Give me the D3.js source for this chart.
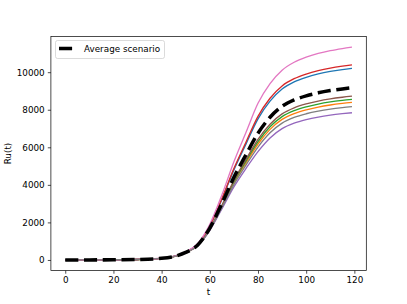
<!DOCTYPE html>
<html><head><meta charset="utf-8">
<script src="https://cdn.jsdelivr.net/npm/d3@7"></script>
<style>body{margin:0;background:#fff}svg{display:block}text{font-family:"DejaVu Sans",sans-serif}</style>
</head><body><svg id="c" width="407" height="304"></svg>
<script>
const times = [0,10,20,30,40,45,50,55,60,65,70,75,80,85,90,95,100,105,110,115,119];
const blueVals   = [1,3,8,26,88,186,414,836,1796,3220,4798,6170,7513,8459,9104,9483,9728,9906,10039,10139,10206];
const orangeVals = [1,3,8,24,83,175,390,773,1628,2834,4101,5172,6176,6954,7485,7796,7997,8144,8253,8336,8391];
const greenVals  = [1,3,8,24,83,176,392,779,1643,2870,4164,5262,6298,7091,7632,7949,8154,8304,8416,8500,8556];
const redVals    = [1,3,8,26,88,187,416,843,1813,3260,4868,6270,7648,8611,9268,9653,9902,10084,10220,10322,10390];
const purpleVals = [1,3,8,24,81,172,383,754,1577,2717,3890,4869,5771,6498,6994,7285,7473,7610,7712,7789,7840];
const brownVals  = [1,3,8,25,84,177,394,784,1658,2904,4228,5353,6419,7228,7779,8103,8312,8464,8578,8664,8721];
const pinkVals   = [1,3,9,27,91,193,428,875,1901,3460,5231,6789,8343,9394,10110,10531,10803,11000,11149,11260,11334];
const grayVals   = [1,3,8,24,82,174,387,765,1607,2788,4016,5051,6014,6772,7288,7591,7787,7930,8037,8117,8170];
const averageVals= [1,3,8,25,85,180,400,800,1700,3000,4400,5600,6750,7600,8180,8520,8740,8900,9020,9110,9170];
const xTicks = [0,20,40,60,80,100,120];
const yTicks = [0,2000,4000,6000,8000,10000];
const legendLabel = "Average scenario";
const xLabel = "t", yLabel = "Ru(t)";

const series = [
  {v: blueVals, c:"#1f77b4"},{v: orangeVals, c:"#ff7f0e"},{v: greenVals, c:"#2ca02c"},
  {v: redVals, c:"#d62728"},{v: purpleVals, c:"#9467bd"},{v: brownVals, c:"#8c564b"},
  {v: pinkVals, c:"#e377c2"},{v: grayVals, c:"#7f7f7f"}
];

const L=50.9, R=366.3, T=36.5, B=270.6;
const svg = d3.select("#c");
const x = d3.scaleLinear().domain([-5.95,124.95]).range([L,R]);
const y = d3.scaleLinear().domain([-567,11901]).range([B,T]);

const line = vals => d3.line().x((d,i)=>x(times[i])).y(d=>y(d)).curve(d3.curveMonotoneX)(vals);

const g = svg.append("g");
series.forEach(s => g.append("path").attr("d", line(s.v)).attr("fill","none")
  .attr("stroke", s.c).attr("stroke-width",1.33));
g.append("path").attr("d", line(averageVals)).attr("fill","none").attr("stroke","#000")
  .attr("stroke-width",3.53).attr("stroke-dasharray","13.1,5.65");

// axes
const xa = svg.append("g").attr("transform",`translate(0,${B})`)
  .call(d3.axisBottom(x).tickValues(xTicks).tickSize(3.1).tickPadding(3.1).tickFormat(d3.format("d")));
const ya = svg.append("g").attr("transform",`translate(${L},0)`)
  .call(d3.axisLeft(y).tickValues(yTicks).tickSize(3.1).tickPadding(3.1).tickFormat(d3.format("d")));
[xa,ya].forEach(a=>{a.select(".domain").remove();
  a.selectAll("line").attr("stroke","#000").attr("stroke-width",0.7);
  a.selectAll("text").attr("font-size",8.8).attr("fill","#000").attr("font-family","DejaVu Sans");});
svg.append("rect").attr("x",L).attr("y",T).attr("width",R-L).attr("height",B-T)
  .attr("fill","none").attr("stroke","#000").attr("stroke-width",0.7);

svg.append("text").attr("x",(L+R)/2).attr("y",295).attr("text-anchor","middle")
  .attr("font-size",8.8).text(xLabel);
svg.append("text").attr("transform",`translate(11,${(T+B)/2}) rotate(-90)`).attr("text-anchor","middle")
  .attr("font-size",8.8).text(yLabel);

// legend
const lg = svg.append("g");
lg.append("rect").attr("x",55.5).attr("y",40.5).attr("width",109).attr("height",18).attr("rx",2)
  .attr("fill","#fff").attr("fill-opacity",0.8).attr("stroke","#ccc").attr("stroke-width",0.7);
lg.append("line").attr("x1",59).attr("x2",77).attr("y1",48.5).attr("y2",48.5)
  .attr("stroke","#000").attr("stroke-width",3.53).attr("stroke-dasharray","13.1,5.65");
lg.append("text").attr("x",84).attr("y",51.7).attr("font-size",8.8).text(legendLabel);
</script></body></html>
